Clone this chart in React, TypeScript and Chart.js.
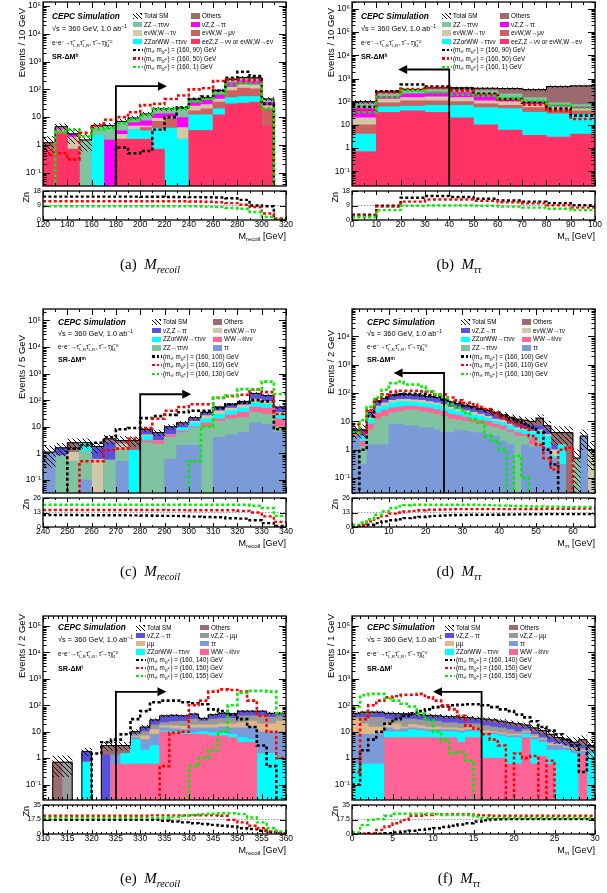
import React, { useEffect, useRef } from 'react';
import { Chart, registerables } from 'chart.js';

Chart.register(...registerables);

const SANS = '"Liberation Sans", Arial, Helvetica, sans-serif';
const SERIF = '"Liberation Serif", "Times New Roman", Times, serif';

// ---------- colours ----------
const COL_EEZ = '#ff3366';
const COL_CYAN = '#00ffff';
const COL_SALMON = '#cd6060';
const COL_BEIGE = '#d2c8a8';
const COL_MAG = '#ff00ff';
const COL_TEAL = '#80c3a0';
const COL_OTH = '#9b6b70';
const COL_VIOLET = '#5a50dc';
const COL_PINK = '#ff6496';
const COL_STEEL = '#7a9bd7';
const COL_TAN = '#deb887';
const COL_GRAY = '#999999';
const SIG_COLS = ['#000000', '#ff0000', '#00ee00'];

// ================= (a) M_recoil, SR-dM^h : 120-320, 10 GeV bins =================
const A_TICKS = [120, 140, 160, 180, 200, 220, 240, 260, 280, 300, 320];
// stack levels (top edge of each layer, bottom -> top)
const A_EEZ = [0.8, 2.5, 0.7, 0, 0, 0, 1.6, 1.6, 1.6, 0.7, 0, 0, 3.3, 3.3, 12, 30, 32, 35, 5, 0];
const A_ZZWW = [0.8, 2.5, 0.7, 0, 2.2, 0, 1.6, 3.6, 3.2, 4, 4, 1.6, 12, 12, 20, 50, 55, 55, 5, 0];
const A_EVWMU = [1.2, 3.0, 0.7, 0, 2.2, 0, 1.6, 3.6, 4.2, 7, 9, 1.6, 17, 20, 35, 90, 110, 105, 20, 0];
const A_EVWTAU = [1.2, 3.5, 1.9, 0, 2.2, 0, 2.4, 4.8, 4.8, 9, 10, 4.2, 25, 28, 45, 120, 150, 145, 26, 0];
const A_VZ = [1.2, 3.8, 2.5, 0, 2.2, 1.5, 3.2, 6.3, 7.3, 13, 13, 9.6, 35, 40, 65, 170, 200, 190, 34, 0];
const A_ZZ = [1.2, 4.2, 2.5, 1.5, 4.7, 5, 6.8, 9, 12.7, 19, 19.5, 19, 42, 48, 85, 210, 240, 235, 42, 0];
const A_OTH = [1.2, 4.5, 2.5, 1.5, 5, 5, 7, 9.3, 13, 20, 20, 21, 45, 50, 90, 230, 270, 260, 45, 0];
const A_UNC = [0.8, 1.2, 1.4, 0.9, 1.0, 1.0, 1.3, 1.5, 2, 2.5, 3, 3, 4, 5, 8, 15, 18, 18, 6, 0];
const A_SIG1 = [0, 0, 0, 0, 0, 0, 0.8, 0.5, 0.6, 3.5, 10, 22, 45, 55, 90, 260, 430, 300, 30, 0];
const A_SIG2 = [0.45, 0.5, 0.3, 2.7, 5, 8, 10, 15, 27, 30, 45, 60, 100, 110, 200, 220, 220, 220, 20, 0];
const A_SIG3 = [0, 3, 3.5, 2, 3.5, 4, 6, 8, 12, 20, 20, 20, 35, 45, 70, 150, 170, 160, 20, 0];
const A_ZN1 = [14.5, 14.5, 14.5, 14.5, 14.5, 14.5, 14.5, 14.5, 14.4, 14.4, 14.3, 14.3, 14.2, 14.1, 14, 13.5, 12.5, 9, 8.5, 0.5];
const A_ZN2 = [11.6, 11.6, 11.6, 11.6, 11.6, 11.6, 11.6, 11.6, 11.6, 11.6, 11.6, 11.6, 11.5, 11.3, 11, 10.5, 9.5, 8, 4, 1];
const A_ZN3 = [8.5, 8.5, 8.5, 8.5, 8.5, 8.5, 8.5, 8.5, 8.5, 8.5, 8.5, 8.5, 8.5, 8.3, 8, 7.5, 7, 5, 2, 0.2];

// ================= (b) M_tautau, SR-dM^h : 0-100, 10 GeV bins =================
const B_TICKS = [0, 10, 20, 30, 40, 50, 60, 70, 80, 90, 100];
const B_EEZ = [0.7, 35, 40, 35, 20, 10, 6, 3.5, 3, 4];
const B_ZZWW = [4, 60, 65, 70, 70, 55, 50, 35, 30, 28];
const B_EVWMU = [10, 90, 110, 110, 100, 80, 70, 55, 45, 40];
const B_EVWTAU = [20, 130, 150, 160, 150, 110, 100, 75, 60, 50];
const B_VZ = [50, 170, 220, 250, 250, 200, 140, 100, 70, 60];
const B_ZZ = [80, 230, 300, 330, 330, 300, 220, 150, 90, 75];
const B_OTH = [100, 280, 340, 400, 400, 380, 370, 330, 450, 480];
const B_UNC = [15, 25, 30, 30, 30, 30, 30, 30, 35, 35];
const B_SIG1 = [60, 280, 550, 450, 350, 220, 130, 90, 50, 25];
const B_SIG2 = [40, 250, 350, 400, 300, 200, 120, 75, 40, 18];
const B_SIG3 = [35, 160, 300, 250, 200, 180, 140, 110, 70, 55];
const B_ZN1 = [3.3, 8.8, 13.8, 14.9, 14.3, 13.2, 12.1, 11.4, 10.5, 9.2];
const B_ZN2 = [2.6, 8.3, 11.4, 12.7, 12.7, 11.9, 11, 10.3, 9.2, 7.7];
const B_ZN3 = [1.7, 6.1, 8.8, 9, 9, 8.8, 8.3, 7.7, 7, 6.1];

// ================= (c) M_recoil, SR-dM^m : 240-340, 5 GeV bins =================
const C_TICKS = [240, 250, 260, 270, 280, 290, 300, 310, 320, 330, 340];
const C_TT = [1.1, 0, 0, 0.1, 0, 0, 0.5, 0, 0, 0, 0.6, 2, 2, 0, 4, 5, 6, 14, 12, 6];
const C_ZZ = [1.1, 0.8, 0.5, 1.2, 0, 0.55, 1.5, 0, 2.5, 2.2, 4, 6, 9, 10, 16, 20, 22, 35, 30, 10];
const C_WW = [1.1, 0.8, 0.5, 1.2, 0, 0.55, 1.5, 0, 3, 3, 5, 7, 10, 14, 20, 28, 35, 55, 50, 20];
const C_ZZWW = [1.1, 0.8, 0.5, 2.3, 0, 0.55, 1.5, 1.3, 4.5, 3, 5, 9, 14, 20, 30, 40, 50, 80, 70, 30];
const C_EVW = [1.1, 0.8, 1.1, 2.3, 0.6, 0.55, 2.3, 1.3, 5, 3, 5, 9, 16, 26, 40, 50, 65, 110, 90, 35];
const C_VZ = [1.1, 1.6, 1.1, 2.3, 1.6, 2.5, 2.3, 1.3, 7, 5.5, 9, 12, 20, 32, 50, 65, 80, 160, 140, 50];
const C_OTH = [1.1, 1.6, 2.5, 2.5, 1.8, 3.5, 3, 3, 8, 6, 10, 14, 22, 35, 55, 70, 90, 180, 150, 55];
const C_UNC = [0.8, 0.8, 1, 1, 0.8, 1.3, 1.3, 1.2, 1.5, 1.5, 2, 2, 3, 4, 5, 6, 8, 12, 12, 6];
const C_SIG1 = [0, 0, 1.5, 2, 2.5, 4, 8, 9, 21, 25, 28, 35, 40, 40, 50, 70, 80, 100, 90, 8];
const C_SIG2 = [0, 0, 0, 0.5, 0.5, 1.3, 1.5, 3.5, 9, 20, 40, 55, 70, 70, 120, 140, 160, 250, 200, 30];
const C_SIG3 = [0, 0, 0, 0, 0, 0, 0, 0, 0, 0, 0, 0, 0.5, 10, 125, 150, 260, 250, 500, 170];
const C_ZN1 = [10.7, 10.7, 10.7, 10.6, 10.6, 10.5, 10.5, 10.4, 10.3, 10.1, 10, 9.8, 9.3, 9, 8.8, 7.8, 7.5, 6, 3.5, 1];
const C_ZN2 = [15.3, 15.3, 15.3, 15.3, 15.3, 15.3, 15.3, 15.2, 15.2, 15.2, 15.1, 15.1, 15, 15, 15, 15, 14.5, 13, 9.5, 4.6];
const C_ZN3 = [19.9, 19.9, 19.9, 19.9, 19.9, 19.9, 19.9, 19.9, 19.9, 19.9, 19.9, 19.9, 19.9, 19.9, 19.9, 20, 20, 19, 17, 10];

// ================= (d) M_tautau, SR-dM^m : 0-66, 2 GeV bins =================
const D_TICKS = [0, 10, 20, 30, 40, 50, 60];
const D_TT = [3, 0.3, 1.5, 1.5, 1.5, 8, 8, 7, 7, 6, 6, 5, 4, 4, 5, 4.5, 4, 4, 3.5, 3, 2, 1.5, 0, 1.5, 1.2, 1.5, 1.2, 0.5, 0.3, 0, 0, 3, 0];
const D_ZZ = [3, 1.3, 5, 12, 15, 20, 22, 25, 25, 22, 20, 18, 15, 12, 11, 10, 9, 8, 7, 6, 5, 4, 3, 3, 1.5, 2, 1.2, 0.5, 0.3, 0, 0.5, 3, 0];
const D_WW = [4, 2, 8, 20, 25, 30, 32, 35, 35, 32, 30, 26, 22, 18, 16, 14, 12, 11, 10, 8, 7, 5, 4, 3.5, 2.5, 2, 1.2, 0.5, 0.3, 0, 0.5, 3, 0];
const D_ZZWW = [4, 3, 12, 30, 35, 45, 50, 50, 48, 45, 42, 38, 32, 26, 22, 20, 17, 15, 13, 10, 9, 7, 5, 5, 4, 4.5, 3, 0.6, 1.5, 0, 0.5, 3, 0];
const D_EVW = [4, 3, 14, 35, 45, 55, 60, 60, 58, 55, 50, 45, 40, 32, 27, 24, 21, 18, 15, 12, 11, 8, 6, 5.5, 4.5, 5, 3.5, 1, 1.5, 0, 0.5, 3, 1];
const D_VZ = [5, 5, 20, 50, 60, 80, 85, 85, 80, 75, 70, 65, 55, 45, 38, 34, 30, 25, 21, 17, 15, 11, 9, 8, 7, 7, 5, 1.5, 1.5, 0, 0.5, 3, 1];
const D_OTH = [5, 5, 21, 52, 65, 85, 90, 90, 85, 80, 75, 70, 60, 48, 42, 37, 33, 28, 24, 20, 17, 14, 12, 11, 10, 13, 7, 4, 4, 4, 0.5, 3, 1];
const D_UNC = [2.5, 2.5, 5, 6, 6, 7, 7, 7, 7, 7, 7, 6, 6, 5, 5, 5, 4.5, 4, 4, 3.5, 3.5, 3, 3, 3, 3, 4, 3, 2.5, 2.5, 2.5, 0.5, 2, 0.8];
const D_SIG1 = [0, 1, 15, 50, 70, 85, 90, 95, 95, 90, 85, 80, 60, 48, 45, 35, 32, 28, 25, 20, 16, 12, 10, 8, 6, 4, 1, 0.3, 0, 0, 0, 0, 0];
const D_SIG2 = [8, 4, 25, 60, 90, 110, 120, 120, 120, 115, 110, 90, 90, 70, 55, 45, 40, 32, 27, 20, 14, 10, 8, 6, 3, 1.5, 0.5, 0.2, 1, 1.2, 0, 0, 0];
const D_SIG3 = [4, 11, 33, 70, 130, 225, 255, 200, 200, 170, 115, 90, 70, 40, 30, 20, 12, 9, 3, 2, 1, 0, 0.6, 0.1, 0, 0, 0, 0, 0, 0, 0, 0, 0];
const D_ZN1 = [0.5, 1, 2, 3.5, 5, 6, 7, 8, 8.5, 9, 9.5, 10, 10.3, 10.5, 10.7, 10.8, 11, 11, 11, 11, 11.2, 11.2, 11.3, 11.3, 11.4, 11.4, 11.5, 11.5, 11.5, 11.5, 11.5, 11.5, 11.5];
const D_ZN2 = [1, 2, 5, 8, 10, 12, 13, 14, 14.5, 15, 15.5, 15.5, 15.7, 15.8, 16, 16, 16, 16, 16, 16, 16, 16, 16, 16, 16.2, 16.2, 16.3, 16.3, 16.4, 16.4, 16.5, 16.5, 16.5];
const D_ZN3 = [2, 4, 7, 11, 14, 17, 18.5, 19.5, 20, 20, 20, 20, 20, 20, 20, 20, 20, 19.8, 19.6, 19.4, 19.2, 19, 18.8, 18.6, 18.5, 18.4, 18.3, 18.2, 18.1, 18, 18, 18, 18];

// ================= (e) M_recoil, SR-dM^l : 310-360, 2 GeV bins =================
const E_TICKS = [310, 315, 320, 325, 330, 335, 340, 345, 350, 355, 360];
const E_WW = [0, 0, 0, 0, 0, 0, 0, 0.6, 0.6, 0.6, 0.6, 0.6, 10, 9, 8, 8, 8, 7, 7, 6, 4, 4, 0, 0, 0];
const E_ZZWW = [0, 0, 0, 0, 0.7, 0, 0, 0.6, 1.5, 5, 2, 3, 11, 10, 9, 9, 10, 9, 9, 8, 6, 5, 1.5, 1.5, 1];
const E_TT = [0, 0, 0, 0, 0.7, 0, 0, 1.3, 1.5, 6, 5, 8, 14, 13, 12, 14, 14, 14, 15, 14, 14, 15, 10, 10, 10];
const E_MM = [0, 0, 0, 0, 0.7, 0, 0, 1.3, 1.5, 6.5, 7, 12, 17, 17, 16, 18, 18, 18, 20, 20, 22, 25, 20, 20, 25];
const E_VZMM = [0, 0, 0.7, 0, 0.7, 0, 0, 1.3, 1.5, 8, 10, 18, 22, 24, 25, 30, 25, 30, 32, 32, 40, 40, 40, 35, 40];
const E_VZTT = [0, 0, 0.7, 0, 1.8, 0, 1.3, 1.3, 1.5, 9, 14, 25, 35, 38, 36, 43, 30, 40, 45, 45, 55, 55, 55, 45, 48];
const E_OTH = [0, 0.7, 0.7, 0, 1.8, 0, 3, 3, 3, 10, 15, 28, 40, 42, 40, 47, 32, 44, 50, 48, 60, 60, 60, 50, 50];
const E_UNC = [0, 0.5, 0.5, 0, 0.6, 0, 1, 1, 1, 2, 2.5, 3, 3.5, 3.5, 3.5, 4, 3.5, 4, 4, 4, 5, 5, 5, 5, 5];
const E_SIG1 = [0, 0, 0, 0, 0, 1.5, 4, 5, 8, 30, 60, 130, 150, 150, 130, 120, 110, 70, 60, 45, 30, 15, 3, 0.5, 0];
const E_SIG2 = [0, 0, 0, 0, 0, 0, 0, 0, 0, 0, 0, 0, 0.5, 9, 10, 100, 150, 330, 400, 380, 330, 150, 40, 10, 1];
const E_SIG3 = [0, 0, 0, 0, 0, 0, 0, 0, 0, 0, 0, 0, 0, 0, 0, 0.5, 1, 2, 10, 100, 300, 350, 350, 330, 50];
const E_ZN1 = [17, 17, 17, 17, 17, 17, 17, 17, 17, 17, 17, 17, 16, 15, 14, 13, 12, 11, 10, 9, 7, 6, 4, 2.5, 1];
const E_ZN2 = [22, 22, 22, 22, 22, 22, 22, 22, 22, 22, 22, 22.5, 22.5, 22.5, 22.5, 22.5, 22.5, 22.5, 22, 17, 14, 10, 7, 3, 1];
const E_ZN3 = [19.5, 19.5, 19.5, 19.5, 19.5, 19.5, 19.5, 19.5, 19.5, 19.5, 19.5, 19.5, 20, 21, 22, 23, 24, 24.5, 25, 25, 24, 20, 14, 7, 3];

// ================= (f) M_tautau, SR-dM^l : 0-30, 1 GeV bins =================
const F_TICKS = [0, 5, 10, 15, 20, 25, 30];
const F_WW = [0, 0, 0, 0, 6, 6, 6, 6, 6, 6, 6, 6, 6, 4, 6, 6, 1, 1, 1, 0.6, 0.6, 6, 0.6, 1.2, 0.6, 0, 0, 0, 1.3, 0];
const F_ZZWW = [0.6, 0.6, 0.6, 0.6, 10, 10, 10, 12, 11, 10, 10, 10, 10, 9, 10, 10, 8, 8, 7, 6, 6, 8, 5, 4, 2, 2, 2, 1.5, 1.3, 1.5];
const F_TT = [8, 8, 8, 9, 14, 12, 13, 14, 13, 12, 12, 12, 12, 11, 12, 12, 9, 9, 8, 7, 7, 9, 6, 5, 3, 3, 2.5, 2, 1.8, 2];
const F_MM = [30, 20, 15, 15, 20, 20, 15, 19, 17, 15, 15, 14, 14, 13, 14, 14, 11, 10, 9, 8, 8, 10, 7, 5.5, 3.5, 3.3, 2.8, 2.3, 2, 2.2];
const F_VZMM = [35, 35, 35, 35, 30, 30, 30, 30, 28, 25, 25, 22, 22, 20, 20, 20, 17, 15, 14, 12, 10, 12, 8, 6, 4, 3.5, 3, 2.5, 2.3, 2.4];
const F_VZTT = [45, 45, 45, 50, 45, 42, 45, 42, 40, 38, 35, 33, 33, 30, 30, 28, 25, 22, 20, 17, 15, 15, 10, 8, 6, 4.5, 4, 3.5, 3, 2.8];
const F_OTH = [50, 55, 55, 55, 50, 48, 48, 46, 45, 42, 40, 38, 37, 35, 34, 32, 30, 28, 25, 22, 20, 18, 14, 11, 8, 6, 5, 4, 5, 3];
const F_UNC = [6, 6, 6, 6, 6, 6, 6, 6, 6, 5, 5, 5, 5, 5, 5, 5, 4, 4, 4, 4, 3.5, 3.5, 3, 3, 2.5, 2.5, 2, 2, 2, 2];
const F_SIG1 = [0.1, 2, 5, 10, 20, 30, 40, 50, 60, 70, 85, 90, 100, 105, 110, 110, 100, 85, 70, 60, 45, 35, 25, 15, 11, 8, 5, 3, 0.3, 3];
const F_SIG2 = [0.3, 30, 100, 150, 200, 220, 250, 250, 270, 200, 150, 100, 70, 40, 17, 13, 8, 5, 3, 0, 1.5, 1, 1.2, 0, 0.8, 0, 0, 0, 0, 0];
const F_SIG3 = [90, 240, 270, 270, 180, 150, 115, 90, 48, 27, 10, 4.7, 1.5, 1.7, 0.8, 0, 0, 0, 0, 0, 0, 0, 0, 0, 0, 0, 0, 0, 0, 0];
const F_ZN1 = [0, 0, 0, 0.5, 1, 2, 3, 4, 5, 6, 7, 8.5, 10, 11.5, 13, 15, 16.5, 17.5, 17.8, 18, 18, 18, 18, 18, 18, 18, 18, 18, 18, 18];
const F_ZN2 = [0, 0.3, 1, 5, 9, 13, 17, 22, 22, 23, 24, 24, 24, 24, 24, 23, 22.5, 22, 22, 22, 22, 22, 22, 22, 22, 22, 22, 22, 22, 22];
const F_ZN3 = [2, 11, 17, 18, 22, 24.5, 24.5, 24.5, 24.5, 24.5, 24, 23, 23, 23, 23, 21, 19.5, 19.5, 19.5, 19.5, 19.5, 19.5, 19.5, 19.5, 19.5, 19.5, 19.5, 19.5, 19.5, 19.5];

// ---------- layout constants ----------
const ML = 40, MR = 4, MT = 10, MB = 10;
const ZML = 40, ZMR = 12, ZMT = 8, ZXH = 14, ZH = 29, ZGAP = 5;

const Sub = ({ children }: any) => (
  <span style={{ fontSize: '68%', verticalAlign: '-0.35em', lineHeight: 0 }}>{children}</span>
);
const Sup = ({ children }: any) => (
  <span style={{ fontSize: '68%', verticalAlign: '0.5em', lineHeight: 0 }}>{children}</span>
);

type Entry = { label: any; color: string };
type PanelCfg = any;

const sigLabel = (m2: number) => (
  <>(m<Sub>τ̃</Sub>, m<Sub>χ̃₁⁰</Sub>) = (160, {m2}) GeV</>
);

const LEG_AB = { c1: 90, c2: 148, y0: 14, dy: 8.5, lx: 9, ly: [14.3, 26.6, 41.6, 55] };
const LEG_CD = { c1: 109, c2: 170, y0: 13, dy: 8.65, lx: 15, ly: [13.4, 24.5, 38, 51] };
const LEG_EF = { c1: 93, c2: 157, y0: 11.5, dy: 8.1, lx: 15, ly: [11.5, 23.5, 38.3, 52.3] };

const LEGL_AB: Entry[] = [
  { label: 'ZZ→ττνν', color: COL_TEAL },
  { label: 'eνW,W→τν', color: COL_BEIGE },
  { label: 'ZZorWW→ττνν', color: COL_CYAN },
];
const LEGR_AB: Entry[] = [
  { label: 'Others', color: COL_OTH },
  { label: 'νZ,Z→ττ', color: COL_MAG },
  { label: 'eνW,W→μν', color: COL_SALMON },
  { label: 'eeZ,Z→νν or eνW,W→eν', color: COL_EEZ },
];
const LEGL_CD: Entry[] = [
  { label: 'νZ,Z→ττ', color: COL_VIOLET },
  { label: 'ZZorWW→ττνν', color: COL_CYAN },
  { label: 'ZZ→ττνν', color: COL_TEAL },
];
const LEGR_CD: Entry[] = [
  { label: 'Others', color: COL_OTH },
  { label: 'eνW,W→τν', color: COL_BEIGE },
  { label: 'WW→ℓℓνν', color: COL_PINK },
  { label: 'ττ', color: COL_STEEL },
];
const LEGL_EF: Entry[] = [
  { label: 'νZ,Z→ττ', color: COL_VIOLET },
  { label: 'μμ', color: COL_TAN },
  { label: 'ZZorWW→ττνν', color: COL_CYAN },
];
const LEGR_EF: Entry[] = [
  { label: 'Others', color: COL_OTH },
  { label: 'νZ,Z→μμ', color: COL_GRAY },
  { label: 'ττ', color: COL_STEEL },
  { label: 'WW→ℓℓνν', color: COL_PINK },
];

const layersAB = (eez: number[], zzww: number[], mu: number[], tau: number[], vz: number[], zz: number[], oth: number[]) => [
  { color: COL_EEZ, lvl: eez }, { color: COL_CYAN, lvl: zzww }, { color: COL_SALMON, lvl: mu },
  { color: COL_BEIGE, lvl: tau }, { color: COL_MAG, lvl: vz }, { color: COL_TEAL, lvl: zz }, { color: COL_OTH, lvl: oth },
];
const layersCD = (tt: number[], zz: number[], ww: number[], zzww: number[], evw: number[], vz: number[], oth: number[]) => [
  { color: COL_STEEL, lvl: tt }, { color: COL_TEAL, lvl: zz }, { color: COL_PINK, lvl: ww },
  { color: COL_CYAN, lvl: zzww }, { color: COL_BEIGE, lvl: evw }, { color: COL_VIOLET, lvl: vz }, { color: COL_OTH, lvl: oth },
];
const layersEF = (ww: number[], zzww: number[], tt: number[], mm: number[], vzmm: number[], vztt: number[], oth: number[]) => [
  { color: COL_PINK, lvl: ww }, { color: COL_CYAN, lvl: zzww }, { color: COL_STEEL, lvl: tt },
  { color: COL_TAN, lvl: mm }, { color: COL_GRAY, lvl: vzmm }, { color: COL_VIOLET, lvl: vztt }, { color: COL_OTH, lvl: oth },
];

const PANELS: PanelCfg[] = [
  {
    key: 'a', px: 43, py: 2, pw: 243, ph: 184, xMin: 120, xMax: 320, binW: 10, xTicks: A_TICKS, minor: 10,
    yMin: 0.033, yMax: 1.4e5, yTitle: 'Events / 10 GeV', yTitleTop: 8, xSub: 'recoil',
    layers: layersAB(A_EEZ, A_ZZWW, A_EVWMU, A_EVWTAU, A_VZ, A_ZZ, A_OTH), unc: A_UNC,
    sigs: [A_SIG1, A_SIG2, A_SIG3], zn: [A_ZN1, A_ZN2, A_ZN3], masses: [90, 50, 1], znMax: 18, znMid: 9,
    arrow: { x: 180, y: 130, x2: 222 }, sr: 'h', leg: LEG_AB, legL: LEGL_AB, legR: LEGR_AB,
  },
  {
    key: 'b', px: 352, py: 2, pw: 243, ph: 184, xMin: 0, xMax: 100, binW: 10, xTicks: B_TICKS, minor: 5,
    yMin: 0.023, yMax: 2.0e6, yTitle: 'Events / 10 GeV', yTitleTop: 8, xSub: 'ττ',
    layers: layersAB(B_EEZ, B_ZZWW, B_EVWMU, B_EVWTAU, B_VZ, B_ZZ, B_OTH), unc: B_UNC,
    sigs: [B_SIG1, B_SIG2, B_SIG3], zn: [B_ZN1, B_ZN2, B_ZN3], masses: [90, 50, 1], znMax: 18, znMid: 9,
    arrow: { x: 40, y: 2450, x2: 19 }, sr: 'h', leg: LEG_AB, legL: LEGL_AB, legR: LEGR_AB,
  },
  {
    key: 'c', px: 43, py: 309, pw: 243, ph: 184, xMin: 240, xMax: 340, binW: 5, xTicks: C_TICKS, minor: 5,
    yMin: 0.032, yMax: 2.7e5, yTitle: 'Events / 5 GeV', yTitleTop: 335, xSub: 'recoil',
    layers: layersCD(C_TT, C_ZZ, C_WW, C_ZZWW, C_EVW, C_VZ, C_OTH), unc: C_UNC,
    sigs: [C_SIG1, C_SIG2, C_SIG3], zn: [C_ZN1, C_ZN2, C_ZN3], masses: [100, 110, 130], znMax: 26, znMid: 13,
    arrow: { x: 280, y: 167, x2: 301 }, sr: 'm', leg: LEG_CD, legL: LEGL_CD, legR: LEGR_CD,
  },
  {
    key: 'd', px: 352, py: 309, pw: 243, ph: 184, xMin: 0, xMax: 66, binW: 2, xTicks: D_TICKS, minor: 2,
    yMin: 0.0295, yMax: 9.3e4, yTitle: 'Events / 2 GeV', yTitleTop: 330, xSub: 'ττ',
    layers: layersCD(D_TT, D_ZZ, D_WW, D_ZZWW, D_EVW, D_VZ, D_OTH), unc: D_UNC,
    sigs: [D_SIG1, D_SIG2, D_SIG3], zn: [D_ZN1, D_ZN2, D_ZN3], masses: [100, 110, 130], znMax: 26, znMid: 13,
    arrow: { x: 25, y: 510, x2: 11.3 }, sr: 'm', leg: LEG_CD, legL: LEGL_CD, legR: LEGR_CD,
  },
  {
    key: 'e', px: 43, py: 616, pw: 243, ph: 184, xMin: 310, xMax: 360, binW: 2, xTicks: E_TICKS, minor: 1,
    yMin: 0.026, yMax: 2.4e5, yTitle: 'Events / 2 GeV', yTitleTop: 614, xSub: 'recoil',
    layers: layersEF(E_WW, E_ZZWW, E_TT, E_MM, E_VZMM, E_VZTT, E_OTH), unc: E_UNC,
    sigs: [E_SIG1, E_SIG2, E_SIG3], zn: [E_ZN1, E_ZN2, E_ZN3], masses: [140, 150, 155], znMax: 35, znMid: 17.5,
    arrow: { x: 325, y: 323, x2: 335.4 }, sr: 'l', leg: LEG_EF, legL: LEGL_EF, legR: LEGR_EF,
  },
  {
    key: 'f', px: 352, py: 616, pw: 243, ph: 184, xMin: 0, xMax: 30, binW: 1, xTicks: F_TICKS, minor: 1,
    yMin: 0.026, yMax: 2.4e5, yTitle: 'Events / 1 GeV', yTitleTop: 614, xSub: 'ττ',
    layers: layersEF(F_WW, F_ZZWW, F_TT, F_MM, F_VZMM, F_VZTT, F_OTH), unc: F_UNC,
    sigs: [F_SIG1, F_SIG2, F_SIG3], zn: [F_ZN1, F_ZN2, F_ZN3], masses: [140, 150, 155], znMax: 35, znMid: 17.5,
    arrow: { x: 16, y: 323, x2: 10 }, sr: 'l', leg: LEG_EF, legL: LEGL_EF, legR: LEGR_EF,
  },
];

// ---------- helpers ----------
const SUPS: Record<string, string> = { '-': '⁻', '0': '⁰', '1': '¹', '2': '²', '3': '³', '4': '⁴', '5': '⁵', '6': '⁶', '7': '⁷', '8': '⁸', '9': '⁹' };
function logLabel(v: number) {
  const e = Math.round(Math.log10(v));
  if (e === 0) return '1';
  if (e === 1) return '10';
  return '10' + String(e).split('').map((c) => SUPS[c]).join('');
}
function decades(lo: number, hi: number) {
  const out: number[] = [];
  for (let e = Math.ceil(Math.log10(lo) - 1e-9); e <= Math.floor(Math.log10(hi) + 1e-9); e++) out.push(Math.pow(10, e));
  return out;
}
function stepPts(xMin: number, w: number, vals: number[], floor: number) {
  const pts = vals.map((v, i) => ({ x: xMin + w * i, y: v > 0 ? v : floor }));
  const last = vals[vals.length - 1];
  pts.push({ x: xMin + w * vals.length, y: last > 0 ? last : floor });
  return pts;
}
function makeHatch(): any {
  const s = 5;
  const c = document.createElement('canvas');
  c.width = s; c.height = s;
  const g = c.getContext('2d') as CanvasRenderingContext2D;
  g.strokeStyle = '#000';
  g.lineWidth = 1;
  g.beginPath();
  g.moveTo(0, 0); g.lineTo(s, s);
  g.moveTo(-1, s - 1); g.lineTo(1, s + 1);
  g.moveTo(s - 1, -1); g.lineTo(s + 1, 1);
  g.stroke();
  return g.createPattern(c, 'repeat');
}

const BAR_OPTS = { grouped: false, categoryPercentage: 1, barPercentage: 1, borderWidth: 0 };
const TICK_FONT = { family: "'Liberation Sans', Arial, sans-serif", size: 8.5 };

function drawXTicks(ctx: CanvasRenderingContext2D, a: any, xs: any, cfg: PanelCfg, Lmaj: number, Lmin: number) {
  const nStep = Math.round((cfg.xMax - cfg.xMin) / cfg.minor);
  for (let i = 0; i <= nStep; i++) {
    const v = cfg.xMin + i * cfg.minor;
    const major = cfg.xTicks.some((t: number) => Math.abs(t - v) < 1e-6);
    const L = major ? Lmaj : Lmin;
    const p = Math.round(xs.getPixelForValue(v)) + 0.5;
    ctx.moveTo(p, a.bottom); ctx.lineTo(p, a.bottom - L);
    ctx.moveTo(p, a.top); ctx.lineTo(p, a.top + L);
  }
}

function buildMain(cfg: PanelCfg, hatch: any) {
  const n = cfg.layers[0].lvl.length;
  const ctrs = Array.from({ length: n }, (_, i) => cfg.xMin + cfg.binW * (i + 0.5));
  const total: number[] = cfg.layers[cfg.layers.length - 1].lvl;
  const datasets: any[] = [];
  [2, 1, 0].forEach((k) => {
    datasets.push({
      type: 'line', data: stepPts(cfg.xMin, cfg.binW, cfg.sigs[k], 1e-5), borderColor: SIG_COLS[k],
      borderWidth: 2.6, borderDash: [3, 2.4], stepped: true, pointRadius: 0, fill: false, clip: 0,
    });
  });
  datasets.push({
    type: 'line', data: stepPts(cfg.xMin, cfg.binW, total, 1e-5), borderColor: '#000',
    borderWidth: 1, stepped: true, pointRadius: 0, fill: false, clip: 0,
  });
  datasets.push({
    type: 'bar', ...BAR_OPTS, backgroundColor: hatch,
    data: ctrs.map((x, i) => ({ x, y: total[i] > 0 ? [Math.max(total[i] - cfg.unc[i], cfg.yMin * 0.5), total[i] + cfg.unc[i]] : null })),
  });
  cfg.layers.forEach((L: any) => {
    datasets.push({
      type: 'bar', ...BAR_OPTS, backgroundColor: L.color,
      data: ctrs.map((x, i) => ({ x, y: L.lvl[i] > 0 ? L.lvl[i] : null })),
    });
  });
  const deco = {
    id: 'deco',
    afterDatasetsDraw(chart: any) {
      const { ctx, chartArea: a } = chart;
      const xs = chart.scales.x, ys = chart.scales.y;
      const x = xs.getPixelForValue(cfg.arrow.x);
      const y = ys.getPixelForValue(cfg.arrow.y);
      const x2 = xs.getPixelForValue(cfg.arrow.x2);
      const dir = Math.sign(x2 - x);
      const head = 9;
      ctx.save();
      ctx.strokeStyle = '#000'; ctx.fillStyle = '#000'; ctx.lineWidth = 1.8;
      ctx.beginPath();
      ctx.moveTo(x, a.bottom); ctx.lineTo(x, y); ctx.lineTo(x2 - dir * head, y);
      ctx.stroke();
      ctx.beginPath();
      ctx.moveTo(x2, y); ctx.lineTo(x2 - dir * head, y - 4.5); ctx.lineTo(x2 - dir * head, y + 4.5);
      ctx.closePath(); ctx.fill();
      ctx.restore();
    },
    afterDraw(chart: any) {
      const { ctx, chartArea: a } = chart;
      const xs = chart.scales.x, ys = chart.scales.y;
      ctx.save();
      ctx.strokeStyle = '#000'; ctx.lineWidth = 1;
      ctx.beginPath();
      drawXTicks(ctx, a, xs, cfg, 6, 3);
      for (let e = Math.floor(Math.log10(cfg.yMin)); e <= Math.ceil(Math.log10(cfg.yMax)); e++) {
        for (let m = 1; m <= 9; m++) {
          const v = m * Math.pow(10, e);
          if (v < cfg.yMin || v > cfg.yMax) continue;
          const p = Math.round(ys.getPixelForValue(v)) + 0.5;
          const L = m === 1 ? 7 : 3.5;
          ctx.moveTo(a.left, p); ctx.lineTo(a.left + L, p);
          ctx.moveTo(a.right, p); ctx.lineTo(a.right - L, p);
        }
      }
      ctx.stroke();
      ctx.lineWidth = 1.3;
      ctx.strokeRect(a.left, a.top, a.right - a.left, a.bottom - a.top);
      ctx.restore();
    },
  };
  return {
    type: 'bar',
    data: { datasets },
    options: {
      animation: false, responsive: false, events: [],
      layout: { padding: { left: 0, right: MR, top: MT, bottom: MB } },
      plugins: { legend: { display: false }, tooltip: { enabled: false } },
      scales: {
        x: {
          type: 'linear', min: cfg.xMin, max: cfg.xMax, offset: false,
          grid: { display: false, drawTicks: false }, border: { display: false },
          ticks: { display: false },
          afterBuildTicks: (s: any) => { s.ticks = cfg.xTicks.map((v: number) => ({ value: v })); },
          afterFit: (s: any) => { s.height = 0; },
        },
        y: {
          type: 'logarithmic', min: cfg.yMin, max: cfg.yMax,
          grid: { display: false, drawTicks: false }, border: { display: false },
          ticks: { font: TICK_FONT, color: '#000', padding: 2, autoSkip: false, callback: (v: any) => logLabel(Number(v)) },
          afterBuildTicks: (s: any) => { s.ticks = decades(cfg.yMin, cfg.yMax).map((v) => ({ value: v })); },
          afterFit: (s: any) => { s.width = ML; },
        },
      },
    },
    plugins: [deco],
  };
}

function buildZn(cfg: PanelCfg) {
  const datasets: any[] = [];
  [2, 1, 0].forEach((k) => {
    datasets.push({
      type: 'line', data: stepPts(cfg.xMin, cfg.binW, cfg.zn[k], 0), borderColor: SIG_COLS[k],
      borderWidth: 2.4, borderDash: [3, 2.4], stepped: true, pointRadius: 0, fill: false,
    });
  });
  datasets.push({
    type: 'line', data: [{ x: cfg.xMin, y: cfg.znMid }, { x: cfg.xMax, y: cfg.znMid }], borderColor: '#9a9a9a',
    borderWidth: 1, borderDash: [1.5, 1.5], pointRadius: 0, fill: false,
  });
  const deco = {
    id: 'zdeco',
    afterDraw(chart: any) {
      const { ctx, chartArea: a } = chart;
      const xs = chart.scales.x, ys = chart.scales.y;
      ctx.save();
      ctx.strokeStyle = '#000'; ctx.lineWidth = 1;
      ctx.beginPath();
      drawXTicks(ctx, a, xs, cfg, 4, 2);
      [0, cfg.znMid, cfg.znMax].forEach((v: number) => {
        const p = Math.round(ys.getPixelForValue(v)) + 0.5;
        ctx.moveTo(a.left, p); ctx.lineTo(a.left + 6, p);
        ctx.moveTo(a.right, p); ctx.lineTo(a.right - 6, p);
      });
      ctx.stroke();
      ctx.lineWidth = 1.3;
      ctx.strokeRect(a.left, a.top, a.right - a.left, a.bottom - a.top);
      ctx.restore();
    },
  };
  return {
    type: 'line',
    data: { datasets },
    options: {
      animation: false, responsive: false, events: [],
      layout: { padding: { left: 0, right: ZMR, top: ZMT, bottom: 0 } },
      plugins: { legend: { display: false }, tooltip: { enabled: false } },
      scales: {
        x: {
          type: 'linear', min: cfg.xMin, max: cfg.xMax, offset: false,
          grid: { display: false, drawTicks: false }, border: { display: false },
          ticks: { font: TICK_FONT, color: '#000', padding: 0, autoSkip: false, maxRotation: 0, minRotation: 0, callback: (v: any) => String(v) },
          afterBuildTicks: (s: any) => { s.ticks = cfg.xTicks.map((v: number) => ({ value: v })); },
          afterFit: (s: any) => { s.height = ZXH; },
        },
        y: {
          type: 'linear', min: 0, max: cfg.znMax,
          grid: { display: false, drawTicks: false }, border: { display: false },
          ticks: { font: { family: TICK_FONT.family, size: 7 }, color: '#000', padding: 2, autoSkip: false, callback: (v: any) => String(v) },
          afterBuildTicks: (s: any) => { s.ticks = [0, cfg.znMid, cfg.znMax].map((v) => ({ value: v })); },
          afterFit: (s: any) => { s.width = ZML; },
        },
      },
    },
    plugins: [deco],
  };
}

// ---------- overlay text components ----------
function RotText({ x, yTop, size, children }: any) {
  const W = 160;
  const h = size * 1.15;
  return (
    <div style={{
      position: 'absolute', left: x, top: yTop + W, width: W, height: h, lineHeight: `${h}px`, fontSize: size,
      fontFamily: SANS, textAlign: 'right', whiteSpace: 'nowrap', transform: 'rotate(-90deg)', transformOrigin: '0 0', color: '#000',
    }}>{children}</div>
  );
}

function TextAt({ x, y, size, weight, italic, children }: any) {
  const h = size * 1.3;
  return (
    <div style={{
      position: 'absolute', left: x, top: y - h / 2, height: h, lineHeight: `${h}px`, fontSize: size, fontFamily: SANS,
      fontWeight: weight || 'normal', fontStyle: italic ? 'italic' : 'normal', whiteSpace: 'nowrap', color: '#000',
    }}>{children}</div>
  );
}

function LegRow({ x, y, swatch, children }: any) {
  return (
    <div style={{
      position: 'absolute', left: x, top: y - 4, height: 8, display: 'flex', alignItems: 'center', fontSize: 6.3,
      fontFamily: SANS, whiteSpace: 'nowrap', color: '#000',
    }}>
      <span style={{ display: 'inline-block', width: 9, height: 8, position: 'relative', flex: '0 0 9px' }}>{swatch}</span>
      <span style={{ marginLeft: 2, lineHeight: '8px' }}>{children}</span>
    </div>
  );
}

const boxSw = (color: string) => (
  <span style={{ position: 'absolute', left: 0, top: 1.25, width: 9, height: 5.5, background: color }} />
);
const hatchSw = (
  <span style={{
    position: 'absolute', left: 0, top: 1, width: 9, height: 6,
    background: 'repeating-linear-gradient(45deg, #000 0 1px, transparent 1px 3px)',
  }} />
);
const lineSw = (color: string) => (
  <span style={{
    position: 'absolute', left: 0, top: 2.8, width: 10, height: 2.4,
    background: `repeating-linear-gradient(90deg, ${color} 0 2.6px, transparent 2.6px 4.6px)`,
  }} />
);

function Panel({ cfg }: { cfg: PanelCfg }) {
  const mainRef = useRef<HTMLCanvasElement | null>(null);
  const znRef = useRef<HTMLCanvasElement | null>(null);
  useEffect(() => {
    const hatch = makeHatch();
    const m = new Chart(mainRef.current as HTMLCanvasElement, buildMain(cfg, hatch) as any);
    const z = new Chart(znRef.current as HTMLCanvasElement, buildZn(cfg) as any);
    return () => { m.destroy(); z.destroy(); };
  }, [cfg]);
  const { px, py, pw, ph } = cfg;
  const znTop = py + ph + ZGAP;
  const znBot = znTop + ZH;
  const mw = ML + pw + MR, mh = MT + ph + MB;
  const zw = ZML + pw + ZMR, zh = ZMT + ZH + ZXH;
  const lg = cfg.leg;
  const rowY = (i: number) => py + lg.y0 + lg.dy * i;
  const lx = px + lg.lx;
  return (
    <>
      <canvas ref={mainRef} width={mw} height={mh} style={{ position: 'absolute', left: px - ML, top: py - MT, width: mw, height: mh }} />
      <canvas ref={znRef} width={zw} height={zh} style={{ position: 'absolute', left: px - ZML, top: znTop - ZMT, width: zw, height: zh }} />
      <RotText x={px - 26.5} yTop={cfg.yTitleTop} size={9.5}>{cfg.yTitle}</RotText>
      <RotText x={px - 22} yTop={znTop + 1} size={9}>Zn</RotText>

      <TextAt x={lx} y={py + lg.ly[0]} size={8.3} weight="bold" italic>CEPC Simulation</TextAt>
      <TextAt x={lx} y={py + lg.ly[1]} size={7.4}>√s = 360 GeV, 1.0 ab<Sup>−1</Sup></TextAt>
      <TextAt x={lx} y={py + lg.ly[2]} size={6.4}>
        e<Sup>+</Sup>e<Sup>−</Sup>→τ̃<Sub>L,R</Sub>τ̃<Sub>L,R</Sub>, τ̃→τχ̃<Sub>1</Sub><Sup>0</Sup>
      </TextAt>
      <TextAt x={lx} y={py + lg.ly[3]} size={7.2} weight="bold">SR-ΔM<Sup>{cfg.sr}</Sup></TextAt>

      <LegRow x={px + lg.c1} y={rowY(0)} swatch={hatchSw}>Total SM</LegRow>
      {cfg.legL.map((e: Entry, i: number) => (
        <LegRow key={'l' + i} x={px + lg.c1} y={rowY(i + 1)} swatch={boxSw(e.color)}>{e.label}</LegRow>
      ))}
      {cfg.legR.map((e: Entry, i: number) => (
        <LegRow key={'r' + i} x={px + lg.c2} y={rowY(i)} swatch={boxSw(e.color)}>{e.label}</LegRow>
      ))}
      {cfg.masses.map((m2: number, k: number) => (
        <LegRow key={'s' + k} x={px + lg.c1} y={rowY(4 + k)} swatch={lineSw(SIG_COLS[k])}>{sigLabel(m2)}</LegRow>
      ))}

      <div style={{
        position: 'absolute', left: px + pw - 200, top: znBot + 16 - 6, width: 200, height: 12, lineHeight: '12px',
        textAlign: 'right', fontSize: 9, fontFamily: SANS, color: '#000', whiteSpace: 'nowrap',
      }}>M<Sub>{cfg.xSub}</Sub> [GeV]</div>

      <div style={{
        position: 'absolute', left: px + 107 - 100, top: znBot + 35, width: 200, height: 18, lineHeight: '18px',
        textAlign: 'center', fontSize: 15, fontFamily: SERIF, color: '#000', whiteSpace: 'nowrap',
      }}>({cfg.key})&ensp;<i>M</i><Sub><i>{cfg.xSub}</i></Sub></div>
    </>
  );
}

export default function App() {
  return (
    <div style={{ position: 'absolute', left: 0, top: 0, width: 607, height: 893, overflow: 'hidden', background: '#fff' }}>
      {PANELS.map((p) => <Panel key={p.key} cfg={p} />)}
    </div>
  );
}
